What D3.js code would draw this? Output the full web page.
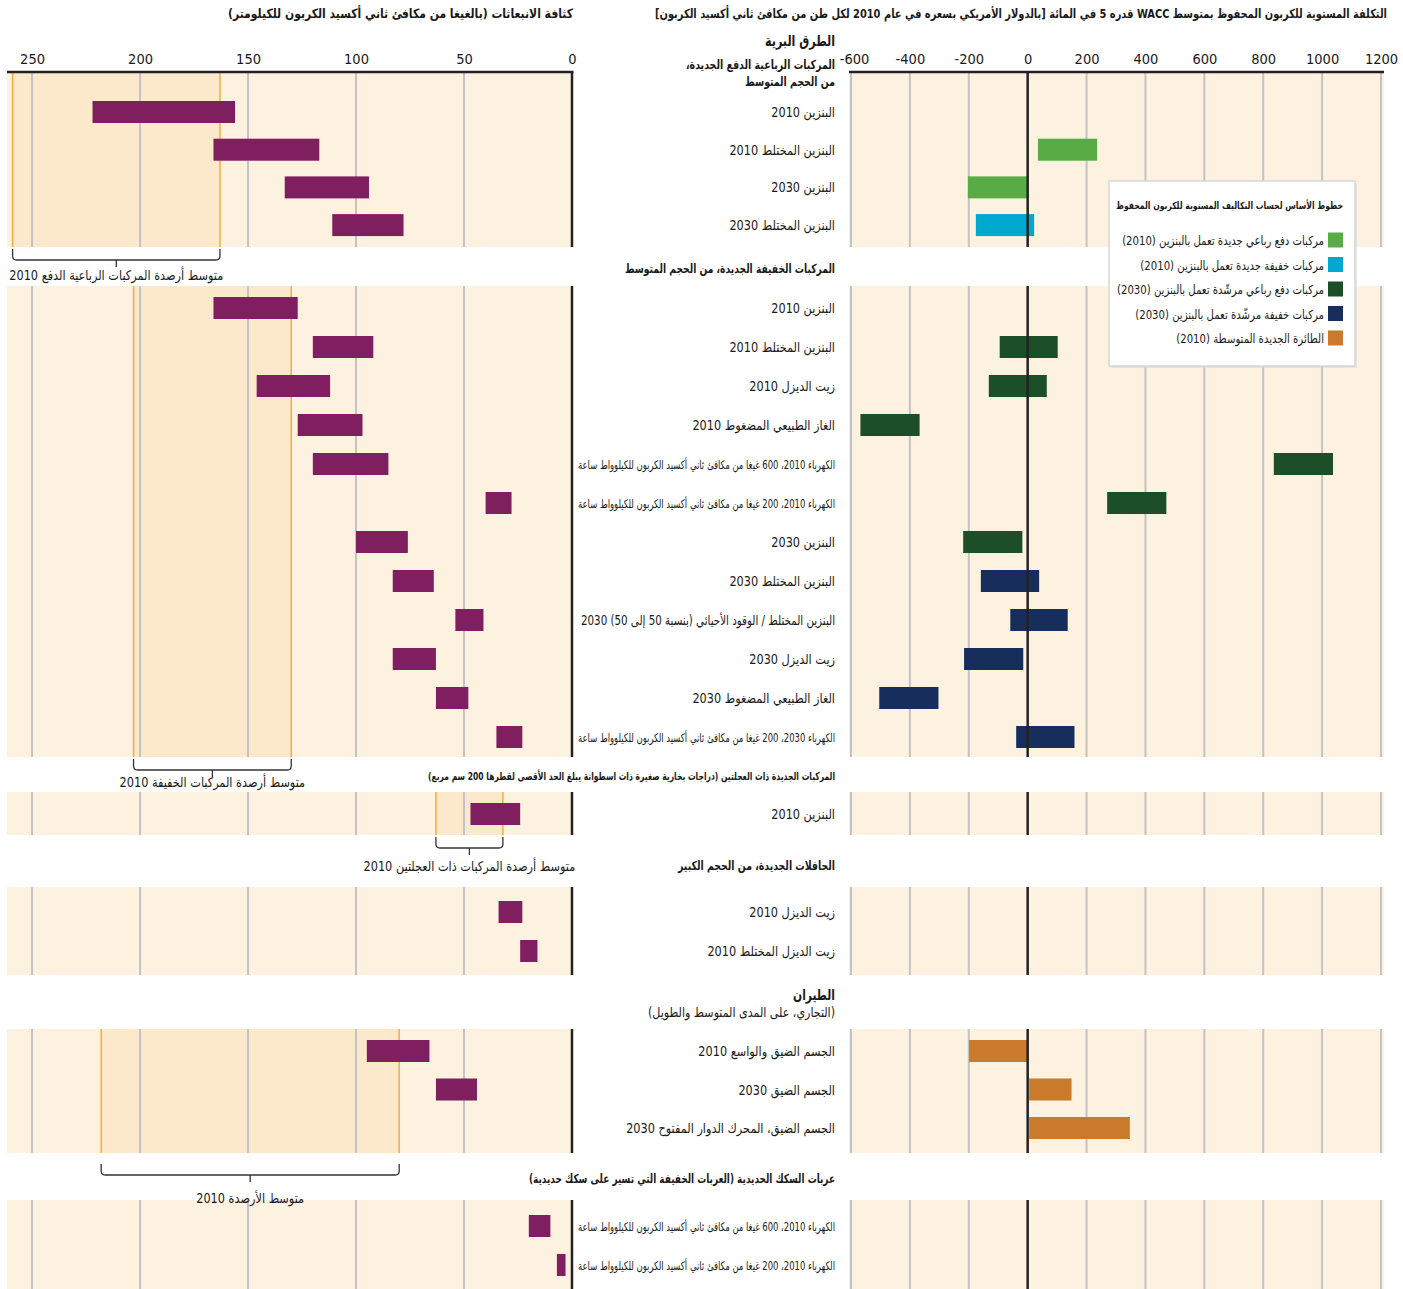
<!DOCTYPE html>
<html><head><meta charset="utf-8">
<script src="https://cdn.jsdelivr.net/npm/d3@7/dist/d3.min.js"></script>
<style>
html,body{margin:0;padding:0;background:#fff;}
svg text{font-family:"DejaVu Sans Condensed","DejaVu Sans",sans-serif;fill:#1a1a1a;}
</style></head><body>
<svg id="chart" width="1403" height="1289"></svg>
<script>
// ---------------- DATA ----------------
const titleEmis = "كثافة الانبعاثات (بالغيغا من مكافئ ثاني أكسيد الكربون للكيلومتر)";
const titleCost = "التكلفة المستوية للكربون المحفوظ بمتوسط WACC قدره 5 في المائة [بالدولار الأمريكي بسعره في عام 2010 لكل طن من مكافئ ثاني أكسيد الكربون]";
const emisTicks = [250, 200, 150, 100, 50, 0];
const costTicks = [-600, -400, -200, 0, 200, 400, 600, 800, 1000, 1200];

const sectionTitles = [
  ["الطرق البرية", "المركبات الرباعية الدفع الجديدة،", "من الحجم المتوسط"],
  ["المركبات الخفيفة الجديدة، من الحجم المتوسط"],
  ["المركبات الجديدة ذات العجلتين (دراجات بخارية صغيرة ذات اسطوانة يبلغ الحد الأقصى لقطرها 200 سم مربع)"],
  ["الحافلات الجديدة، من الحجم الكبير"],
  ["الطيران", "(التجاري، على المدى المتوسط والطويل)"],
  ["عربات السكك الحديدية (العربات الخفيفة التي تسير على سكك حديدية)"]
];

const rowLabels = [
  "البنزين 2010",
  "البنزين المختلط 2010",
  "البنزين 2030",
  "البنزين المختلط 2030",
  "البنزين 2010",
  "البنزين المختلط 2010",
  "زيت الديزل 2010",
  "الغاز الطبيعي المضغوط 2010",
  "الكهرباء 2010، 600 غيغا من مكافئ ثاني أكسيد الكربون للكيلوواط ساعة",
  "الكهرباء 2010، 200 غيغا من مكافئ ثاني أكسيد الكربون للكيلوواط ساعة",
  "البنزين 2030",
  "البنزين المختلط 2030",
  "البنزين المختلط / الوقود الأحيائي (بنسبة 50 إلى 50) 2030",
  "زيت الديزل 2030",
  "الغاز الطبيعي المضغوط 2030",
  "الكهرباء 2030، 200 غيغا من مكافئ ثاني أكسيد الكربون للكيلوواط ساعة",
  "البنزين 2010",
  "زيت الديزل 2010",
  "زيت الديزل المختلط 2010",
  "الجسم الضيق والواسع 2010",
  "الجسم الضيق 2030",
  "الجسم الضيق، المحرك الدوار المفتوح 2030",
  "الكهرباء 2010، 600 غيغا من مكافئ ثاني أكسيد الكربون للكيلوواط ساعة",
  "الكهرباء 2010، 200 غيغا من مكافئ ثاني أكسيد الكربون للكيلوواط ساعة"
];
const rowSection = [0,0,0,0, 1,1,1,1,1,1,1,1,1,1,1,1, 2, 3,3, 4,4,4, 5,5];

const emisLow  = [156, 117, 94, 78, 127, 92, 112, 97, 85, 28, 76, 64, 41, 63, 48, 23, 24, 23, 16, 66, 44, null, 10, 3];
const emisHigh = [222, 166, 133, 111, 166, 120, 146, 127, 120, 40, 100, 83, 54, 83, 63, 35, 47, 34, 24, 95, 63, null, 20, 7];

const costLow  = [null, 35, -203, -176, null, -95, -132, -568, 836, 270, -219, -159, -59, -216, -504, -39, null, null, null, -199, 5, 5, null, null];
const costHigh = [null, 236, 0, 22, null, 102, 65, -367, 1037, 471, -18, 39, 136, -15, -303, 159, null, null, null, 0, 149, 347, null, null];
const costBaseline = [null, 0, 0, 1, null, 2, 2, 2, 2, 2, 2, 3, 3, 3, 3, 3, null, null, null, 4, 4, 4, null, null];

const legendTitle = "خطوط الأساس لحساب التكاليف المستوية للكربون المحفوظ";
const legendLabels = [
  "مركبات دفع رباعي جديدة تعمل بالبنزين (2010)",
  "مركبات خفيفة جديدة تعمل بالبنزين (2010)",
  "مركبات دفع رباعي مرشّدة تعمل بالبنزين (2030)",
  "مركبات خفيفة مرشّدة تعمل بالبنزين (2030)",
  "الطائرة الجديدة المتوسطة (2010)"
];
const legendColors = ["#59ab46", "#00a7cf", "#1c4e27", "#172d5c", "#c97b2b"];

const fleetLow  = [163, 130, 32, null, 80, null];
const fleetHigh = [259, 203, 63, null, 218, null];
const fleetLabels = [
  "متوسط أرصدة المركبات الرباعية الدفع 2010",
  "متوسط أرصدة المركبات الخفيفة 2010",
  "متوسط أرصدة المركبات ذات العجلتين 2010",
  null,
  "متوسط الأرصدة 2010",
  null
];

// ---------------- LAYOUT ----------------
const svg = d3.select("#chart");
const purple = "#7f1f60";
const bandFill = "#fdf1e0", hiFill = "#fce8cb", gridCol = "#c3c3c3", orange = "#f5ae3c";

const xE = d3.scaleLinear().domain([0, 261.6]).range([572, 7]);
const xC = d3.scaleLinear().domain([-600, 1200]).range([851, 1381]);
const cLeft = 849, cRight = 1384;

const secLayout = [
  {top: 72, bottom: 247, y0: 112, step: 37.7, hy: [46, 69, 86], fs: [15, 12.5, 12.5], fw: ["bold","bold","bold"], hw: [70, 149, 90], bt: 249, ly: 280},
  {top: 286, bottom: 757, y0: 308, step: 39.0, hy: [273], fs: [12.5], fw: ["bold"], hw: [210], bt: 759, ly: 787},
  {top: 792, bottom: 835, y0: 814, step: 39, hy: [780], fs: [11], fw: ["bold"], hw: [407], bt: 837, ly: 871},
  {top: 887, bottom: 975, y0: 912, step: 39, hy: [870], fs: [12.5], fw: ["bold"], hw: [157], bt: 0, ly: 0},
  {top: 1029, bottom: 1153, y0: 1051, step: 38.5, hy: [1000, 1017], fs: [15, 13.5], fw: ["bold","normal"], hw: [42, 187], bt: 1164, ly: 1203},
  {top: 1200, bottom: 1289, y0: 1226, step: 39, hy: [1183], fs: [12.5], fw: ["bold"], hw: [306], bt: 0, ly: 0}
];

// row y positions
const rowY = [];
const secCount = {};
rowSection.forEach((s, i) => {
  const k = secCount[s] || 0;
  rowY[i] = secLayout[s].y0 + k * secLayout[s].step;
  secCount[s] = k + 1;
});

function rtext(sel, x, y, s, size, weight, anchor, width, factor) {
  const t = sel.append("text").attr("x", x).attr("y", y)
    .attr("direction", "rtl")
    .attr("text-anchor", anchor || "start")
    .style("font-size", size + "px")
    .style("font-weight", weight || "normal")
    .text(s);
  const nat = t.node().getComputedTextLength();
  const w = width || nat * (factor || 0.9);
  t.attr("textLength", w).attr("lengthAdjust", "spacingAndGlyphs");
  return t;
}

// Bands
const gBands = svg.append("g");
secLayout.forEach((L, s) => {
  gBands.append("rect").attr("x", xE.range()[1]).attr("y", L.top)
    .attr("width", xE(0) - xE.range()[1]).attr("height", L.bottom - L.top).attr("fill", bandFill);
  gBands.append("rect").attr("x", cLeft).attr("y", L.top)
    .attr("width", cRight - cLeft).attr("height", L.bottom - L.top).attr("fill", bandFill);
  if (fleetLow[s] != null) {
    gBands.append("rect").attr("x", xE(fleetHigh[s])).attr("y", L.top)
      .attr("width", xE(fleetLow[s]) - xE(fleetHigh[s])).attr("height", L.bottom - L.top).attr("fill", hiFill);
  }
  emisTicks.filter(t => t !== 0).forEach(t => {
    gBands.append("line").attr("x1", xE(t)).attr("x2", xE(t)).attr("y1", L.top).attr("y2", L.bottom)
      .attr("stroke", gridCol).attr("stroke-width", 2);
  });
  costTicks.filter(t => t !== 0).forEach(t => {
    gBands.append("line").attr("x1", xC(t)).attr("x2", xC(t)).attr("y1", L.top).attr("y2", L.bottom)
      .attr("stroke", gridCol).attr("stroke-width", 2);
  });
  if (fleetLow[s] != null) {
    [fleetLow[s], fleetHigh[s]].forEach(v => {
      gBands.append("line").attr("x1", xE(v)).attr("x2", xE(v)).attr("y1", L.top).attr("y2", L.bottom)
        .attr("stroke", orange).attr("stroke-width", 1.5);
    });
  }
});

// Bars
const gBars = svg.append("g");
rowLabels.forEach((lab, i) => {
  if (emisLow[i] != null) {
    gBars.append("rect").attr("x", xE(emisHigh[i])).attr("y", rowY[i] - 11)
      .attr("width", xE(emisLow[i]) - xE(emisHigh[i])).attr("height", 22).attr("fill", purple);
  }
  if (costLow[i] != null) {
    gBars.append("rect").attr("x", xC(costLow[i])).attr("y", rowY[i] - 11)
      .attr("width", xC(costHigh[i]) - xC(costLow[i])).attr("height", 22).attr("fill", legendColors[costBaseline[i]]);
  }
  const long = lab.length > 40;
  const elec = lab.length > 60;
  rtext(svg, 835, rowY[i] + 5, lab, elec ? 12 : 13.5, "normal", "start", long ? (elec ? 257 : 254) : null, 0.93);
});

// zero lines
secLayout.forEach(L => {
  svg.append("line").attr("x1", xE(0)).attr("x2", xE(0)).attr("y1", L.top).attr("y2", L.bottom)
    .attr("stroke", "#222").attr("stroke-width", 2.5);
  svg.append("line").attr("x1", xC(0)).attr("x2", xC(0)).attr("y1", L.top).attr("y2", L.bottom)
    .attr("stroke", "#222").attr("stroke-width", 2.5);
});

// Axes on top
const fmt = d => String(d);
const axE = svg.append("g").attr("transform", "translate(0,72)")
  .call(d3.axisTop(xE).tickValues(emisTicks).tickFormat(fmt).tickSize(0).tickPadding(8));
axE.select(".domain").remove();
axE.append("line").attr("x1", 7).attr("x2", 573.5).attr("stroke", "#222").attr("stroke-width", 2.5);
const axC = svg.append("g").attr("transform", "translate(0,72)")
  .call(d3.axisTop(xC).tickValues(costTicks).tickFormat(fmt).tickSize(0).tickPadding(8));
axC.select(".domain").remove();
axC.append("line").attr("x1", cLeft).attr("x2", cRight).attr("stroke", "#222").attr("stroke-width", 2.5);
svg.selectAll(".tick text").style("font-size", "14.5px").attr("fill", "#1a1a1a")
  .style("font-family", "'Liberation Sans Narrow','DejaVu Sans Condensed',sans-serif");
axC.selectAll(".tick text").filter(d => d === -600).attr("dx", 3);

// Titles
rtext(svg, 573, 18, titleEmis, 13, "bold", "start", 345);
rtext(svg, 1387, 18, titleCost, 12.5, "bold", "start", 732);

// Section headers
secLayout.forEach((L, s) => {
  sectionTitles[s].forEach((t, j) => {
    rtext(svg, 835, L.hy[j], t, L.fs[j], L.fw[j], "start", L.hw[j]);
  });
});

// Fleet brackets
secLayout.forEach((L, s) => {
  if (fleetLow[s] == null) return;
  const x1 = xE(fleetHigh[s]), x2 = xE(fleetLow[s]);
  const top = L.bt, bot = L.bt + 11, xc = (x1 + x2) / 2;
  svg.append("path")
    .attr("d", `M${x1},${top} V${bot - 4} Q${x1},${bot} ${x1 + 4},${bot} H${x2 - 4} Q${x2},${bot} ${x2},${bot - 4} V${top} M${xc},${bot} V${bot + 7}`)
    .attr("fill", "none").attr("stroke", "#333").attr("stroke-width", 1.3);
  rtext(svg, xc, L.ly, fleetLabels[s], 13.5, "normal", "middle", null, 0.93);
});

// Legend
const lg = svg.append("g");
lg.append("rect").attr("x", 1111).attr("y", 183).attr("width", 246).attr("height", 185)
  .attr("fill", "#d9d9d9").attr("opacity", 0.6);
lg.append("rect").attr("x", 1109).attr("y", 181).attr("width", 246).attr("height", 185)
  .attr("fill", "#fff").attr("stroke", "#d6d6d6").attr("stroke-width", 1.5);
rtext(lg, 1343, 209, legendTitle, 10, "bold", "start", 227);
legendLabels.forEach((t, i) => {
  const y = 240 + i * 24.5;
  lg.append("rect").attr("x", 1328).attr("y", y - 7.5).attr("width", 15).attr("height", 15).attr("fill", legendColors[i]);
  rtext(lg, 1324, y + 5, t, 12.5, "normal", "start", null, 0.9);
});
</script>
</body></html>
